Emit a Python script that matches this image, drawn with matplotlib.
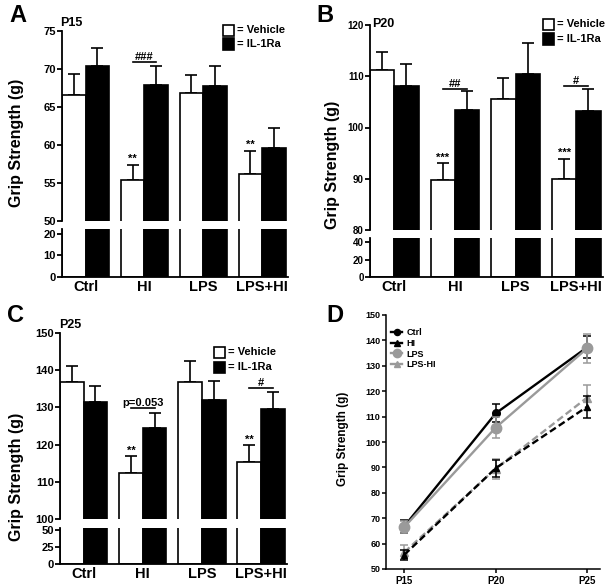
import matplotlib
matplotlib.use('Agg')
import matplotlib.pyplot as plt
from matplotlib.patches import Rectangle
from matplotlib.lines import Line2D
import numpy as np

plt.rcParams['font.family'] = ['Liberation Sans', 'DejaVu Sans']
plt.rcParams['font.weight'] = 'bold'

# ---------------- data ----------------
groups = ['Ctrl', 'HI', 'LPS', 'LPS+HI']

p15_vehicle = [66.6, 55.35, 66.8, 56.2]
p15_vehicle_err = [2.7, 2.05, 2.45, 3.0]
p15_il1ra = [70.4, 67.9, 67.8, 59.65]
p15_il1ra_err = [2.3, 2.5, 2.6, 2.65]

p20_vehicle = [111.2, 89.7, 105.6, 90.0]
p20_vehicle_err = [3.6, 3.3, 4.1, 3.9]
p20_il1ra = [108.1, 103.5, 110.4, 103.3]
p20_il1ra_err = [4.2, 3.7, 6.0, 4.3]

p25_vehicle = [136.7, 112.5, 136.9, 115.4]
p25_vehicle_err = [4.3, 4.4, 5.7, 4.5]
p25_il1ra = [131.4, 124.5, 131.9, 129.7]
p25_il1ra_err = [4.3, 4.0, 5.3, 4.4]

ages = ['P15', 'P20', 'P25']
ctrl_mean = [66.8, 111.3, 137.3]
ctrl_err = [2.6, 3.6, 4.3]
hi_mean = [55.6, 89.7, 113.9]
hi_err = [2.0, 3.3, 4.4]
lps_mean = [66.5, 105.7, 136.9]
lps_err = [2.5, 4.0, 5.8]
lpshi_mean = [56.6, 89.5, 117.5]
lpshi_err = [2.8, 3.9, 5.0]

W, H = 616, 586
fig = plt.figure(figsize=(W / 100, H / 100), dpi=100)


def rect(l, t, r, b):
    return [l / W, 1 - b / H, (r - l) / W, (b - t) / H]


def bar_panel(up, low, up_lim, low_lim, up_ticks, low_ticks,
              veh, veh_err, il, il_err, tick_fs):
    axu = fig.add_axes(rect(*up))
    axl = fig.add_axes(rect(*low))
    x = np.arange(len(groups))
    for ax in (axu, axl):
        ax.bar(x - 0.2, veh, 0.4, color='white', edgecolor='black', lw=1.2, zorder=2)
        ax.bar(x + 0.2, il, 0.4, color='black', edgecolor='black', lw=1.2, zorder=2)
        ax.errorbar(x - 0.2, veh, yerr=[np.zeros(len(veh)), veh_err], fmt='none',
                    ecolor='black', elinewidth=1.2, capsize=4.5, capthick=1.2, zorder=1)
        ax.errorbar(x + 0.2, il, yerr=[np.zeros(len(il)), il_err], fmt='none',
                    ecolor='black', elinewidth=1.2, capsize=4.5, capthick=1.2, zorder=1)
        ax.set_xlim(-0.4, 3.44)
        for s in ('top', 'right'):
            ax.spines[s].set_visible(False)
        for s in ('left', 'bottom'):
            ax.spines[s].set_linewidth(1.3)
        ax.tick_params(axis='y', labelsize=tick_fs, width=1.3, length=3.5, pad=1)
    axu.set_ylim(*up_lim)
    axu.set_yticks(up_ticks)
    axu.spines['bottom'].set_visible(False)
    axu.set_xticks([])
    axl.set_ylim(*low_lim)
    axl.set_yticks(low_ticks)
    axl.set_xticks(x)
    axl.set_xticklabels(groups, fontsize=10.5, fontweight='bold')
    axl.tick_params(axis='x', length=0, pad=2)
    return axu, axl


def bracket(ax, i, y, txt, fs=8):
    ax.plot([i - 0.2, i + 0.2], [y, y], color='black', lw=1.2, clip_on=False)
    ax.text(i, y, txt, ha='center', va='bottom', fontsize=fs, fontweight='bold')


def stars(ax, xpos, y, txt):
    ax.text(xpos, y, txt, ha='center', va='bottom', fontsize=8, fontweight='bold')


def legend_boxes(x, y1, y2, size=11):
    fig.add_artist(Rectangle((x / W, 1 - (y1 + size / 2) / H), size / W, size / H,
                             transform=fig.transFigure, facecolor='white',
                             edgecolor='black', lw=1.2))
    fig.add_artist(Rectangle((x / W, 1 - (y2 + size / 2) / H), size / W, size / H,
                             transform=fig.transFigure, facecolor='black',
                             edgecolor='black', lw=1.2))
    fig.text((x + size + 3) / W, 1 - y1 / H, '= Vehicle', fontsize=8,
             fontweight='bold', va='center')
    fig.text((x + size + 3) / W, 1 - y2 / H, '= IL-1Ra', fontsize=8,
             fontweight='bold', va='center')


# ---------------- Panel A ----------------
aU, aL = bar_panel((62, 31, 288, 221), (62, 229, 288, 277), (50, 75), (0, 22.3),
                   [50, 55, 60, 65, 70, 75], [0, 10, 20],
                   p15_vehicle, p15_vehicle_err, p15_il1ra, p15_il1ra_err, 8)
stars(aU, 0.8, 57.5, '**')
stars(aU, 2.8, 59.3, '**')
bracket(aU, 1, 70.9, '###')

# ---------------- Panel B ----------------
bU, bL = bar_panel((370, 25, 603, 230), (370, 238, 603, 277), (80, 120), (0, 44.6),
                   [80, 90, 100, 110, 120], [0, 20, 40],
                   p20_vehicle, p20_vehicle_err, p20_il1ra, p20_il1ra_err, 7)
stars(bU, 0.8, 93.1, '***')
stars(bU, 2.8, 94.0, '***')
bracket(bU, 1, 107.6, '##')
bracket(bU, 3, 108.1, '#')

# ---------------- Panel C ----------------
cU, cL = bar_panel((60, 333, 287, 519), (60, 528, 287, 564), (100, 150), (0, 52.9),
                   [100, 110, 120, 130, 140, 150], [0, 25, 50],
                   p25_vehicle, p25_vehicle_err, p25_il1ra, p25_il1ra_err, 8)
stars(cU, 0.8, 117.0, '**')
stars(cU, 2.8, 120.0, '**')
bracket(cU, 1, 129.8, 'p=0.053')
bracket(cU, 3, 135.1, '#')

# ---------------- Panel D ----------------
axd = fig.add_axes(rect(386, 315, 600, 569))
xd = np.arange(len(ages))
gray = '#9a9a9a'
styles = {
    'Ctrl': dict(color='black', ls='-', marker='o', ms=5.5),
    'HI': dict(color='black', ls='--', marker='^', ms=5),
    'LPS': dict(color=gray, ls='-', marker='o', ms=7.5),
    'LPS-HI': dict(color=gray, ls='--', marker='^', ms=6),
}
series = [('LPS-HI', lpshi_mean, lpshi_err, 2), ('HI', hi_mean, hi_err, 3),
          ('Ctrl', ctrl_mean, ctrl_err, 3), ('LPS', lps_mean, lps_err, 4)]
for name, m, e, z in series:
    st = styles[name]
    axd.errorbar(xd, m, yerr=e, color=st['color'], ls=st['ls'], lw=1.7,
                 marker=st['marker'], ms=st['ms'], capsize=3, elinewidth=1.1,
                 capthick=1.1, zorder=z, dashes=(3, 1.5) if st['ls'] == '--' else (None, None))
axd.set_xlim(-0.2, 2.14)
axd.set_ylim(50, 150)
axd.set_yticks(np.arange(50, 151, 10))
axd.set_xticks(xd)
axd.set_xticklabels(ages, fontsize=7, fontweight='bold')
axd.tick_params(axis='y', labelsize=6.5, width=1.1, length=3, pad=1)
axd.tick_params(axis='x', width=1.1, length=3, pad=2)
for s in ('top', 'right'):
    axd.spines[s].set_visible(False)
for s in ('left', 'bottom'):
    axd.spines[s].set_linewidth(1.1)
handles = []
for name in ['Ctrl', 'HI', 'LPS', 'LPS-HI']:
    st = styles[name]
    handles.append(Line2D([0], [0], color=st['color'], ls='-', lw=1.7,
                          marker=st['marker'], ms=st['ms'] * 0.8))
axd.legend(handles, ['Ctrl', 'HI', 'LPS', 'LPS-HI'], loc='upper left',
           bbox_to_anchor=(0.0, 0.97), frameon=False, fontsize=6.5,
           handlelength=1.2, handletextpad=0.5, labelspacing=0.2,
           borderaxespad=0.2)

# ---------------- texts ----------------
for lab, x, y in [('A', 18, 15), ('B', 325, 15), ('C', 15, 315), ('D', 335, 316)]:
    fig.text(x / W, 1 - y / H, lab, fontsize=17, fontweight='bold', ha='center', va='center')
for lab, x, y in [('P15', 60, 23), ('P20', 372, 24), ('P25', 59, 325)]:
    fig.text(x / W, 1 - y / H, lab, fontsize=9, fontweight='bold', ha='left', va='center')
for x, y, fs in [(17, 143, 11.5), (332, 165, 11.5), (17, 477, 11.5), (343, 439, 8.5)]:
    fig.text(x / W, 1 - y / H, 'Grip Strength (g)', fontsize=fs, fontweight='bold',
             rotation=90, ha='center', va='center')

legend_boxes(223, 30, 44)
legend_boxes(543, 24, 39)
legend_boxes(214, 352, 367)

fig.savefig('out.png', dpi=100)
